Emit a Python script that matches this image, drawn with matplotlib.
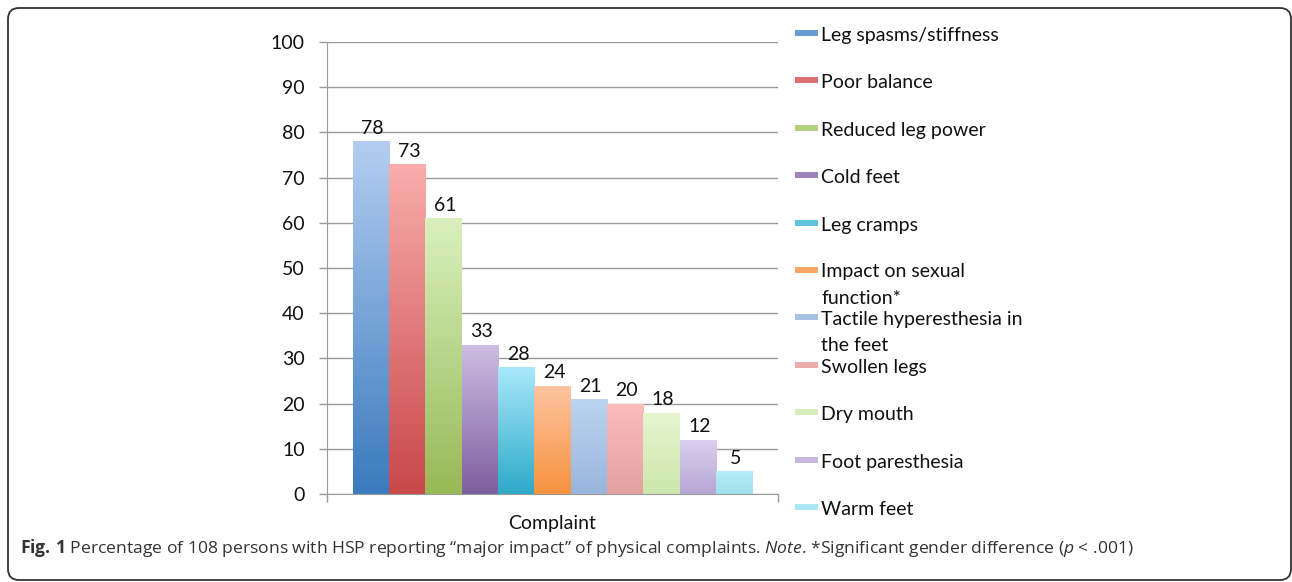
import matplotlib.pyplot as plt
import numpy as np
from matplotlib.colors import to_rgb
from matplotlib.patches import FancyBboxPatch, Rectangle

plt.rcParams['font.family'] = ['Lato', 'DejaVu Sans']
plt.rcParams['mathtext.fontset'] = 'custom'
plt.rcParams['mathtext.rm'] = 'Open Sans'
plt.rcParams['mathtext.it'] = 'Open Sans:italic'
plt.rcParams['mathtext.bf'] = 'Open Sans:bold'

# Data
complaints = ['Leg spasms/stiffness', 'Poor balance', 'Reduced leg power', 'Cold feet',
              'Leg cramps', 'Impact on sexual\nfunction*', 'Tactile hyperesthesia in\nthe feet',
              'Swollen legs', 'Dry mouth', 'Foot paresthesia', 'Warm feet']
percent = [78, 73, 61, 33, 28, 24, 21, 20, 18, 12, 5]
top_colors = ['#b3cdf0', '#f9acac', '#d9f0bd', '#cdbde3', '#a8e8fb', '#fdc4a0',
              '#bcd3f0', '#fbbcbc', '#e5f6cf', '#dccfee', '#b7edf8']
bottom_colors = ['#3b7bbd', '#c9484a', '#99b957', '#7d5f9f', '#2daac8', '#f7923f',
                 '#98b6dd', '#e3a2a2', '#cde7ad', '#b7a7d5', '#9fdfee']
y_ticks = list(range(0, 101, 10))

W, H = 1292, 582
FS = 14
fig = plt.figure(figsize=(W / 100, H / 100), dpi=100)

# background layer in pixel coordinates (frame, legend, caption)
bg = fig.add_axes([0, 0, 1, 1], zorder=-1)
bg.set_xlim(0, W)
bg.set_ylim(H, 0)
bg.axis('off')
bg.add_patch(FancyBboxPatch((8, 8), 1283, 572, boxstyle='round,pad=0,rounding_size=11',
                            fill=False, ec='#333333', lw=1.3, clip_on=False))

ax = fig.add_axes([327 / W, 1 - 494 / H, 451 / W, 452 / H])
n = len(percent)
w = 0.0805
xs = (np.arange(n) - (n - 1) / 2) * w
bars = ax.bar(xs, percent, width=w, color='none', zorder=2)


def grad(c_top, c_bot):
    t = np.linspace(0, 1, 64)[:, None]
    a = np.array(to_rgb(c_top))
    b = np.array(to_rgb(c_bot))
    return (a * (1 - t) + b * t).reshape(64, 1, 3)


for bar, ct, cb, v in zip(bars, top_colors, bottom_colors, percent):
    x0 = bar.get_x()
    im = ax.imshow(grad(ct, cb), extent=[x0, x0 + w, 0, v], aspect='auto',
                   origin='upper', zorder=2, interpolation='bilinear')
    im.set_clip_path(bar)
    ax.text(x0 + w / 2 + 0.004, v + 1.0, str(v), ha='center', va='bottom',
            fontsize=FS, color='#111111', zorder=3)

ax.set_xlim(-0.5, 0.5)
ax.set_ylim(0, 100)
ax.set_yticks(y_ticks)
ax.tick_params(axis='y', length=6, width=1, color='#9a9a9a', pad=10,
               labelsize=FS, labelcolor='#111111')
ax.set_xticks([])
ax.set_xticks([-0.5, 0.5], minor=True)
ax.tick_params(axis='x', which='minor', length=6, width=1, color='#9a9a9a')
ax.grid(axis='y', color='#9a9a9a', lw=1, zorder=0)
ax.set_axisbelow(True)
for s in ['top', 'right']:
    ax.spines[s].set_visible(False)
for s in ['left', 'bottom']:
    ax.spines[s].set_color('#9a9a9a')
ax.set_xlabel('Complaint', fontsize=FS, color='#111111', labelpad=6)

# legend drawn by hand to keep Excel-like even spacing
base0, step, line_px = 41, 47.4, 26
for i, (lab, ct, cb) in enumerate(zip(complaints, top_colors, bottom_colors)):
    yb = base0 + i * step
    mid = 0.4 * np.array(to_rgb(ct)) + 0.6 * np.array(to_rgb(cb))
    bg.add_patch(Rectangle((795, yb - 11), 23, 6, fc=mid, ec='none'))
    extra = lab.count('\n') * line_px
    bg.text(821, yb + extra, lab, ha='left', va='baseline', fontsize=FS,
            color='#111111', linespacing=1.7)

caption = (r'$\bf{Fig.\,1}$ Percentage of 108 persons with HSP reporting “major impact” of '
           r'physical complaints. $\it{Note}$. *Significant gender difference ($\it{p}$ < .001)')
bg.text(20, 548, caption, ha='left', va='center', fontsize=12.6, family='Open Sans',
        color='#333333')

fig.savefig('out.png', dpi=100)
